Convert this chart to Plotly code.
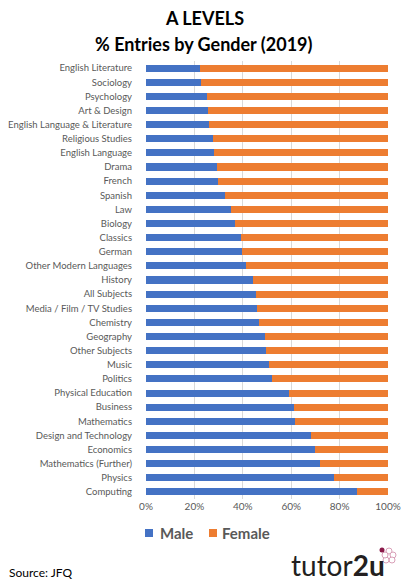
import plotly.graph_objects as go

subjects = [
    "English Literature", "Sociology", "Psychology", "Art & Design",
    "English Language & Literature", "Religious Studies", "English Language",
    "Drama", "French", "Spanish", "Law", "Biology", "Classics", "German",
    "Other Modern Languages", "History", "All Subjects",
    "Media / Film / TV Studies", "Chemistry", "Geography", "Other Subjects",
    "Music", "Politics", "Physical Education", "Business", "Mathematics",
    "Design and Technology", "Economics", "Mathematics (Further)", "Physics",
    "Computing",
]
male_pct = [
    22.4, 22.9, 25.3, 25.7, 26.1, 27.7, 28.2, 29.5, 29.9, 32.8, 35.2, 36.9,
    39.1, 39.5, 41.2, 44.1, 45.3, 45.7, 46.5, 49.0, 49.4, 50.8, 51.9, 59.1,
    61.0, 61.4, 68.3, 70.0, 71.7, 77.5, 87.2,
]
female_pct = [round(100 - m, 1) for m in male_pct]
x_ticks = [0, 20, 40, 60, 80, 100]
x_tick_labels = ["0%", "20%", "40%", "60%", "80%", "100%"]

FONT = "Lato"
GREY = "#595959"
BLUE = "#4472C4"
ORANGE = "#ED7D31"

# page body has an 8px margin; figure sized/positioned to compensate
OFF = 8
W, H = 410 - OFF, 587 - OFF
L, R = 146 - OFF, 388 - OFF
T, B = 61 - OFF, 499 - OFF


def px(xw):
    return ((xw - OFF) - L) / (R - L)


def py(yw):
    return (B - (yw - OFF)) / (B - T)


fig = go.Figure()
fig.add_trace(go.Bar(y=subjects, x=male_pct, orientation="h", name="Male",
                     marker=dict(color=BLUE, line=dict(width=0))))
fig.add_trace(go.Bar(y=subjects, x=female_pct, orientation="h", name="Female",
                     marker=dict(color=ORANGE, line=dict(width=0))))

fig.update_layout(
    width=W, height=H,
    barmode="stack", bargap=0.5,
    paper_bgcolor="white", plot_bgcolor="white",
    margin=dict(l=L, r=W - R, t=T, b=H - B, autoexpand=False),
    font=dict(family=FONT, color=GREY, size=10),
    showlegend=False,
    xaxis=dict(range=[0, 100], tickvals=x_ticks, ticktext=x_tick_labels,
               showgrid=True, gridcolor="#d9d9d9", gridwidth=1,
               zeroline=False, showline=False, ticks="",
               tickfont=dict(size=10, color=GREY), automargin=False),
    yaxis=dict(autorange="reversed", showgrid=False, ticks="",
               showline=False, tickfont=dict(size=9.5, color=GREY),
               ticklabelstandoff=13, automargin=False),
)

# title
fig.add_annotation(text="<b>A LEVELS</b>", xref="paper", yref="paper",
                   x=px(204), y=py(18), xanchor="center", yanchor="middle",
                   showarrow=False, font=dict(size=18, color="black", family=FONT))
fig.add_annotation(text="<b>% Entries by Gender (2019)</b>", xref="paper", yref="paper",
                   x=px(204), y=py(44), xanchor="center", yanchor="middle",
                   showarrow=False, font=dict(size=18, color="black", family=FONT))

# legend (manual)
for x0, label, col, tx in [(145, "Male", BLUE, 158), (209, "Female", ORANGE, 220)]:
    fig.add_shape(type="rect", xref="paper", yref="paper",
                  xsizemode="pixel", ysizemode="pixel",
                  xanchor=px(x0), yanchor=py(533),
                  x0=0, x1=8, y0=-4, y1=4,
                  fillcolor=col, line=dict(width=0))
    fig.add_annotation(text="<b>" + label + "</b>", xref="paper", yref="paper",
                       x=px(tx), y=py(533), xanchor="left", yanchor="middle",
                       showarrow=False,
                       font=dict(size=15, color=GREY, family=FONT))

# source
fig.add_annotation(text="Source: JFQ", xref="paper", yref="paper",
                   x=px(7), y=py(572), xanchor="left", yanchor="middle",
                   showarrow=False, font=dict(size=12, color="black", family=FONT))

# tutor2u logo text
fig.add_annotation(text="tutor<b>2u</b>", xref="paper", yref="paper",
                   x=px(387), y=py(565), xanchor="right", yanchor="middle",
                   showarrow=False, font=dict(size=28, color="#231f20", family=FONT))

# small flower mark next to the logo
for dx, dy in [(0, 5), (4, 1), (3, -4), (-3, -4), (-4, 1)]:
    fig.add_shape(type="circle", xref="paper", yref="paper",
                  xsizemode="pixel", ysizemode="pixel",
                  xanchor=px(389), yanchor=py(556),
                  x0=dx - 3, x1=dx + 3, y0=dy - 3, y1=dy + 3,
                  fillcolor="white", line=dict(color="#d9a0b8", width=1))
fig.add_shape(type="circle", xref="paper", yref="paper",
              xsizemode="pixel", ysizemode="pixel",
              xanchor=px(382), yanchor=py(550),
              x0=-2.5, x1=2.5, y0=-2.5, y1=2.5,
              fillcolor="#8b1a4a", line=dict(width=0))

fig.write_html("out.html")
